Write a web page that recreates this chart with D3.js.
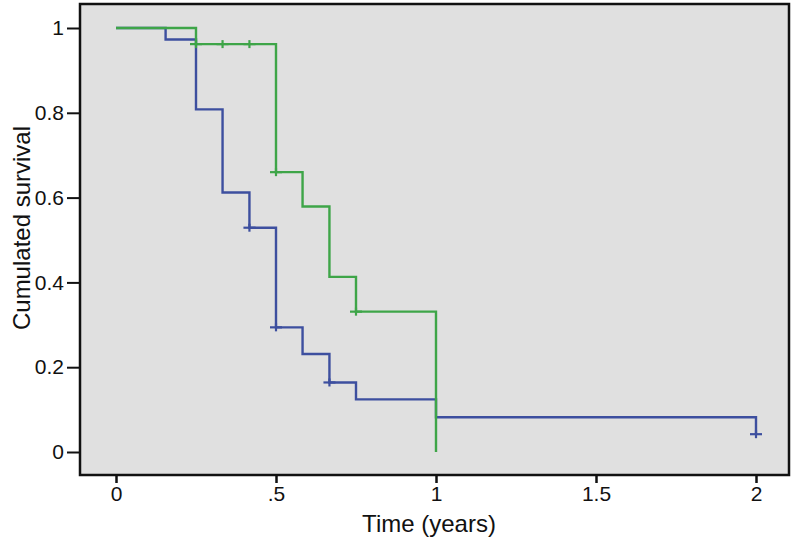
<!DOCTYPE html>
<html>
<head>
<meta charset="utf-8">
<script src="https://cdn.jsdelivr.net/npm/d3@7"></script>
<style>
  body { margin: 0; background: #fff; }
  svg text { font-family: "Liberation Sans", Arial, sans-serif; fill: #111; }
</style>
</head>
<body>
<div id="chart"></div>
<script>
// survival curves (time in years)
const blueTimes = [0, 0.155, 0.25, 0.333, 0.417, 0.5, 0.583, 0.667, 0.75, 1.0, 2.0]
const blueSurv = [1, 0.973, 0.808, 0.612, 0.529, 0.294, 0.231, 0.164, 0.124, 0.082, 0.042]
const blueCensorTimes = [0.417, 0.5, 0.667, 2.0]
const blueCensorSurv = [0.529, 0.294, 0.164, 0.042]

const greenTimes = [0, 0.25, 0.5, 0.583, 0.667, 0.75, 1.0]
const greenSurv = [1, 0.962, 0.66, 0.579, 0.413, 0.331, 0]
const greenCensorTimes = [0.25, 0.333, 0.417, 0.5, 0.75]
const greenCensorSurv = [0.962, 0.962, 0.962, 0.66, 0.331]

const xTicks = [0, 0.5, 1, 1.5, 2]
const xTickLabels = ["0", ".5", "1", "1.5", "2"]
const yTicks = [0, 0.2, 0.4, 0.6, 0.8, 1]
const yTickLabels = ["0", "0.2", "0.4", "0.6", "0.8", "1"]

const width = 795, height = 540
// plot frame
const frame = { left: 80, right: 789, top: 4, bottom: 475 }

const svg = d3.select("#chart")
  .append("svg")
    .attr("width", width)
    .attr("height", height)

const x = d3.scaleLinear().domain([0, 2]).range([116, 756])
const y = d3.scaleLinear().domain([0, 1]).range([452, 28])

// grey panel
svg.append("rect")
  .attr("x", frame.left)
  .attr("y", frame.top)
  .attr("width", frame.right - frame.left)
  .attr("height", frame.bottom - frame.top)
  .attr("fill", "#e0e0e0")

// axes
const yAxis = d3.axisLeft(y)
  .tickValues(yTicks)
  .tickFormat((d, i) => yTickLabels[i])
  .tickSize(13)
  .tickPadding(3)

svg.append("g")
  .attr("transform", `translate(${frame.left},0)`)
  .call(yAxis)
  .call(g => g.select(".domain").remove())
  .call(g => g.selectAll("line").attr("stroke", "#111").attr("stroke-width", 2))
  .call(g => g.selectAll("text").style("font-size", "21px").attr("fill", "#111"))

const xAxis = d3.axisBottom(x)
  .tickValues(xTicks)
  .tickFormat((d, i) => xTickLabels[i])
  .tickSize(8)
  .tickPadding(3)

svg.append("g")
  .attr("transform", `translate(0,${frame.bottom})`)
  .call(xAxis)
  .call(g => g.select(".domain").remove())
  .call(g => g.selectAll("line").attr("stroke", "#111").attr("stroke-width", 2.5))
  .call(g => g.selectAll("text").style("font-size", "21px").attr("fill", "#111"))

// curves
const line = d3.line()
  .x(d => x(d[0]))
  .y(d => y(d[1]))
  .curve(d3.curveStepAfter)

const series = [
  { times: blueTimes, surv: blueSurv, ct: blueCensorTimes, cs: blueCensorSurv, color: "#3d4f9f" },
  { times: greenTimes, surv: greenSurv, ct: greenCensorTimes, cs: greenCensorSurv, color: "#3ea548" }
]

series.forEach(s => {
  svg.append("path")
    .datum(s.times.map((t, i) => [t, s.surv[i]]))
    .attr("d", line)
    .attr("fill", "none")
    .attr("stroke", s.color)
    .attr("stroke-width", 2.4)

  // censor marks as "+"
  const marks = svg.append("g").attr("stroke", s.color).attr("stroke-width", 2.2)
  s.ct.forEach((t, i) => {
    const cx = x(t), cy = y(s.cs[i])
    marks.append("line").attr("x1", cx - 6).attr("x2", cx + 6).attr("y1", cy).attr("y2", cy)
    marks.append("line").attr("x1", cx).attr("x2", cx).attr("y1", cy - 4).attr("y2", cy + 4)
  })
})

// frame on top
svg.append("rect")
  .attr("x", frame.left)
  .attr("y", frame.top)
  .attr("width", frame.right - frame.left)
  .attr("height", frame.bottom - frame.top)
  .attr("fill", "none")
  .attr("stroke", "#111")
  .attr("stroke-width", 2.5)

// axis titles
svg.append("text")
  .attr("x", 429)
  .attr("y", 532)
  .attr("text-anchor", "middle")
  .style("font-size", "24px")
  .text("Time (years)")

svg.append("text")
  .attr("transform", `translate(30,228) rotate(-90)`)
  .attr("text-anchor", "middle")
  .style("font-size", "24px")
  .text("Cumulated survival")
</script>
</body>
</html>
